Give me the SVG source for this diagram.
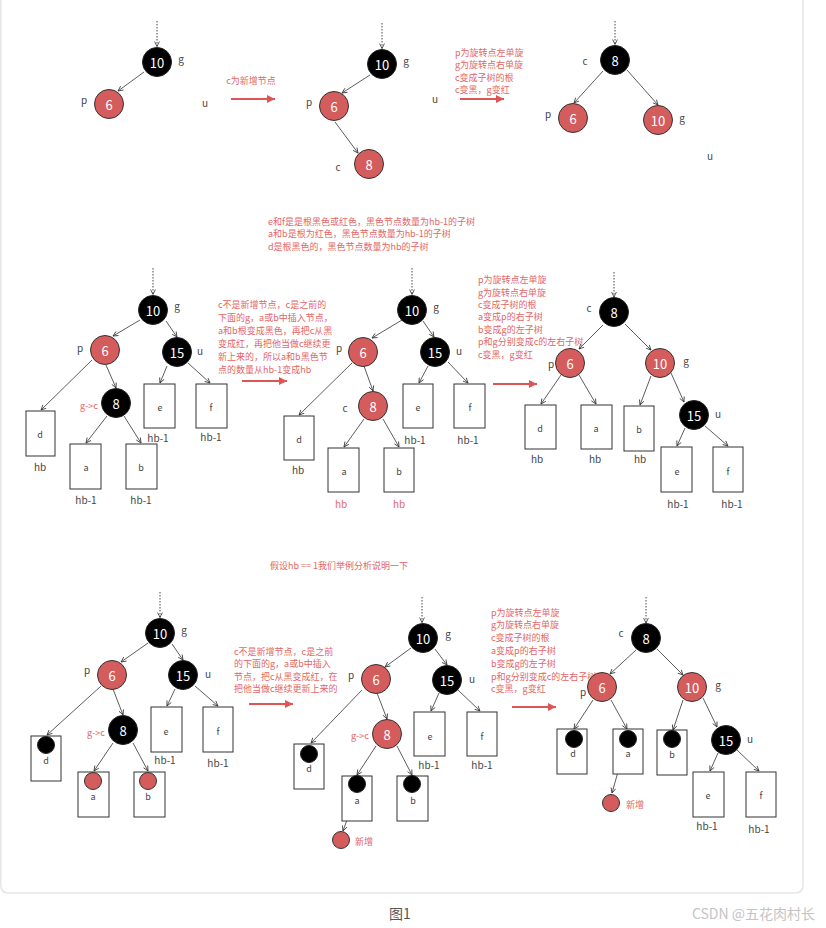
<svg xmlns="http://www.w3.org/2000/svg" width="826" height="928" viewBox="0 0 826 928">
<style>
text{font-family:"Noto Sans CJK SC","Noto Sans",sans-serif;dominant-baseline:central}
.b{fill:#000;stroke:#222;stroke-width:1}
.r{fill:#d45c5c;stroke:#333;stroke-width:1}
.n{fill:#fff;font-size:13px;text-anchor:middle}
.l{fill:#444;font-size:10px;text-anchor:middle}
.bl{fill:#444;font-size:9px;text-anchor:middle}
.h{fill:#444;font-size:10px;text-anchor:middle}
.hr{fill:#e36666;font-size:10px;text-anchor:middle}
.x{fill:#fff;stroke:#333;stroke-width:1}
.note{fill:#e36666;font-size:9px}
.gc{fill:#e36666;font-size:9px;text-anchor:middle}
.e{stroke:#333;stroke-width:0.8;fill:none;marker-end:url(#ah)}
.d{stroke:#333;stroke-width:0.9;fill:none;stroke-dasharray:1.5 1.5;marker-end:url(#ah)}
.ra{stroke:#dd5555;stroke-width:2;fill:none;marker-end:url(#rh)}
</style>
<defs>
<marker id="ah" viewBox="0 0 6 6" refX="5.5" refY="3" markerWidth="6" markerHeight="6" markerUnits="userSpaceOnUse" orient="auto"><path d="M0.5,0.6 L5.5,3 L0.5,5.4" fill="none" stroke="#333" stroke-width="0.8"/></marker>
<marker id="rh" viewBox="0 0 8 8" refX="8" refY="4" markerWidth="8" markerHeight="8" markerUnits="userSpaceOnUse" orient="auto"><path d="M0,0 L8,4 L0,8 Z" fill="#dd5555"/></marker>
</defs>
<rect width="826" height="928" fill="#fff"/>
<path d="M0.75,-10 V885 Q0.75,893 8.75,893 H795 Q803,893 803,885 V-10" fill="none" stroke="#e6e6e6" stroke-width="1.5"/>

<g id="connectors">
<!-- panel 1 -->
<line class="d" x1="157" y1="21" x2="157" y2="46.5"/>
<line class="e" x1="144" y1="72" x2="118" y2="91"/>
<line class="ra" x1="231" y1="99" x2="275" y2="99"/>
<!-- panel 2 -->
<line class="d" x1="382" y1="23" x2="382" y2="48.5"/>
<line class="e" x1="370" y1="75" x2="342" y2="93"/>
<line class="e" x1="335" y1="122" x2="358" y2="153"/>
<line class="ra" x1="460" y1="99" x2="504" y2="99"/>
<!-- panel 3 -->
<line class="d" x1="615" y1="21" x2="615" y2="44.5"/>
<line class="e" x1="603" y1="71" x2="574" y2="103"/>
<line class="e" x1="627" y1="70" x2="658" y2="105"/>
<!-- panel 4 -->
<line class="d" x1="153" y1="268" x2="153" y2="294.5"/>
<line class="e" x1="140" y1="320" x2="113" y2="336"/>
<line class="e" x1="166" y1="321" x2="177" y2="337"/>
<line class="e" x1="92" y1="360" x2="41" y2="410"/>
<line class="e" x1="106" y1="365" x2="116" y2="388"/>
<line class="e" x1="107" y1="416" x2="86" y2="443"/>
<line class="e" x1="124" y1="416" x2="141" y2="443"/>
<line class="e" x1="167" y1="366" x2="160" y2="383"/>
<line class="e" x1="188" y1="363" x2="210" y2="383"/>
<line class="ra" x1="242" y1="381" x2="287" y2="381"/>
<!-- panel 5 -->
<line class="d" x1="412" y1="268" x2="412" y2="294.5"/>
<line class="e" x1="402" y1="320" x2="372" y2="338"/>
<line class="e" x1="423" y1="321" x2="434" y2="337"/>
<line class="e" x1="352" y1="363" x2="299" y2="415"/>
<line class="e" x1="364" y1="366" x2="373" y2="391"/>
<line class="e" x1="364" y1="419" x2="344" y2="447"/>
<line class="e" x1="383" y1="419" x2="399" y2="447"/>
<line class="e" x1="428" y1="366" x2="419" y2="383"/>
<line class="e" x1="448" y1="362" x2="468" y2="383"/>
<line class="ra" x1="493" y1="384" x2="537" y2="384"/>
<!-- panel 6 -->
<line class="d" x1="614" y1="272" x2="614" y2="297"/>
<line class="e" x1="603" y1="325" x2="579" y2="349"/>
<line class="e" x1="625" y1="324" x2="651" y2="350"/>
<line class="e" x1="561" y1="375" x2="541" y2="404"/>
<line class="e" x1="579" y1="375" x2="596" y2="404"/>
<line class="e" x1="651" y1="376" x2="640" y2="405"/>
<line class="e" x1="671" y1="373" x2="684" y2="402"/>
<line class="e" x1="685" y1="428" x2="677" y2="446"/>
<line class="e" x1="705" y1="426" x2="728" y2="446"/>
<!-- panel 7 -->
<line class="d" x1="160" y1="592" x2="160" y2="617.5"/>
<line class="e" x1="148" y1="643" x2="121" y2="662"/>
<line class="e" x1="172" y1="644" x2="183" y2="660"/>
<line class="e" x1="101" y1="686" x2="47" y2="735"/>
<line class="e" x1="113" y1="689" x2="123" y2="715"/>
<line class="e" x1="113" y1="743" x2="94" y2="771"/>
<line class="e" x1="133" y1="743" x2="148" y2="771"/>
<line class="e" x1="175" y1="689" x2="167" y2="706"/>
<line class="e" x1="195" y1="686" x2="218" y2="706"/>
<line class="ra" x1="249" y1="704" x2="293" y2="704"/>
<!-- panel 8 -->
<line class="d" x1="422" y1="597" x2="422" y2="622.5"/>
<line class="e" x1="411" y1="648" x2="385" y2="667"/>
<line class="e" x1="435" y1="649" x2="447" y2="665"/>
<line class="e" x1="362" y1="690" x2="311" y2="743"/>
<line class="e" x1="377" y1="693" x2="387" y2="719"/>
<line class="e" x1="376" y1="746" x2="357" y2="775"/>
<line class="e" x1="397" y1="746" x2="412" y2="775"/>
<line class="e" x1="439" y1="693" x2="431" y2="711"/>
<line class="e" x1="458" y1="690" x2="480" y2="711"/>
<line class="e" x1="357" y1="792" x2="343" y2="831"/>
<line class="ra" x1="512" y1="707" x2="556" y2="707"/>
<!-- panel 9 -->
<line class="d" x1="646" y1="597" x2="646" y2="623"/>
<line class="e" x1="636" y1="650" x2="610" y2="674"/>
<line class="e" x1="657" y1="649" x2="683" y2="675"/>
<line class="e" x1="593" y1="700" x2="574" y2="729"/>
<line class="e" x1="611" y1="700" x2="627" y2="729"/>
<line class="e" x1="683" y1="700" x2="673" y2="730"/>
<line class="e" x1="703" y1="698" x2="717" y2="727"/>
<line class="e" x1="718" y1="753" x2="710" y2="771"/>
<line class="e" x1="737" y1="750" x2="759" y2="771"/>
<line class="e" x1="625" y1="747" x2="612" y2="793"/>
</g>

<!-- ===== Panel 1 ===== -->
<g id="t1-g"><circle class="b" cx="157" cy="62" r="14.5"/><text class="n" x="157" y="62">10</text><text class="l" x="181" y="58">g</text></g>
<g id="t1-p"><circle class="r" cx="109" cy="104" r="14.5"/><text class="n" x="109" y="104">6</text><text class="l" x="84" y="99">p</text></g>
<g id="t1-u"><text class="l" x="205" y="102">u</text></g>
<g id="a1"><text class="note" x="251" y="80" text-anchor="middle">c为新增节点</text></g>

<!-- ===== Panel 2 ===== -->
<g id="t2-g"><circle class="b" cx="382" cy="64" r="14.5"/><text class="n" x="382" y="64">10</text><text class="l" x="406" y="60">g</text></g>
<g id="t2-p"><circle class="r" cx="334" cy="106" r="14.5"/><text class="n" x="334" y="106">6</text><text class="l" x="309" y="101">p</text></g>
<g id="t2-c"><circle class="r" cx="369" cy="164" r="14.5"/><text class="n" x="369" y="164">8</text><text class="l" x="338" y="166">c</text></g>
<g id="t2-u"><text class="l" x="435" y="98">u</text></g>
<g id="a2"><text class="note" x="455" y="52">p为旋转点左单旋</text><text class="note" x="455" y="64">g为旋转点右单旋</text><text class="note" x="455" y="77">c变成子树的根</text><text class="note" x="455" y="89">c变黑，g变红</text></g>

<!-- ===== Panel 3 ===== -->
<g id="t3-c"><circle class="b" cx="615" cy="60" r="14.5"/><text class="n" x="615" y="60">8</text><text class="l" x="585" y="60">c</text></g>
<g id="t3-p"><circle class="r" cx="573" cy="118" r="14.5"/><text class="n" x="573" y="118">6</text><text class="l" x="548" y="113">p</text></g>
<g id="t3-g"><circle class="r" cx="658" cy="120" r="14.5"/><text class="n" x="658" y="120">10</text><text class="l" x="682" y="117">g</text></g>
<g id="t3-u"><text class="l" x="710" y="155">u</text></g>

<g id="note-mid"><text class="note" x="268" y="221">e和f是是根黑色或红色，黑色节点数量为hb-1的子树</text><text class="note" x="268" y="233">a和b是根为红色，黑色节点数量为hb-1的子树</text><text class="note" x="268" y="246">d是根黑色的，黑色节点数量为hb的子树</text></g>

<!-- ===== Panel 4 ===== -->
<g id="m1-g"><circle class="b" cx="153" cy="310" r="14.5"/><text class="n" x="153" y="310">10</text><text class="l" x="177" y="305">g</text></g>
<g id="m1-p"><circle class="r" cx="105" cy="350" r="14.5"/><text class="n" x="105" y="350">6</text><text class="l" x="80" y="347">p</text></g>
<g id="m1-u"><circle class="b" cx="177" cy="352" r="14.5"/><text class="n" x="177" y="352">15</text><text class="l" x="200" y="350">u</text></g>
<g id="m1-c"><circle class="b" cx="116" cy="403" r="14.5"/><text class="n" x="116" y="403">8</text><text class="gc" x="89" y="405">g-&gt;c</text></g>
<g id="m1-d"><rect class="x" x="26" y="411" width="29" height="45"/><text class="bl" x="40" y="434">d</text><text class="h" x="40" y="466">hb</text></g>
<g id="m1-a"><rect class="x" x="70" y="444" width="31" height="45"/><text class="bl" x="86" y="467">a</text><text class="h" x="86" y="499">hb-1</text></g>
<g id="m1-b"><rect class="x" x="126" y="444" width="31" height="45"/><text class="bl" x="141" y="467">b</text><text class="h" x="141" y="499">hb-1</text></g>
<g id="m1-e"><rect class="x" x="144" y="384" width="31" height="44"/><text class="bl" x="160" y="407">e</text><text class="h" x="158" y="437">hb-1</text></g>
<g id="m1-f"><rect class="x" x="196" y="384" width="31" height="44"/><text class="bl" x="211" y="407">f</text><text class="h" x="211" y="436">hb-1</text></g>
<g id="a4"><text class="note" x="218" y="304">c不是新增节点，c是之前的</text><text class="note" x="218" y="317">下面的g，a或b中插入节点，</text><text class="note" x="218" y="330">a和b根变成黑色，再把c从黑</text><text class="note" x="218" y="343">变成红，再把他当做c继续更</text><text class="note" x="218" y="356">新上来的，所以a和b黑色节</text><text class="note" x="218" y="369">点的数量从hb-1变成hb</text></g>

<!-- ===== Panel 5 ===== -->
<g id="m2-g"><circle class="b" cx="412" cy="310" r="14.5"/><text class="n" x="412" y="310">10</text><text class="l" x="436" y="306">g</text></g>
<g id="m2-p"><circle class="r" cx="363" cy="352" r="14.5"/><text class="n" x="363" y="352">6</text><text class="l" x="339" y="347">p</text></g>
<g id="m2-u"><circle class="b" cx="435" cy="352" r="14.5"/><text class="n" x="435" y="352">15</text><text class="l" x="459" y="350">u</text></g>
<g id="m2-c"><circle class="r" cx="373" cy="406" r="14.5"/><text class="n" x="373" y="406">8</text><text class="l" x="345" y="407">c</text></g>
<g id="m2-d"><rect class="x" x="284" y="416" width="30" height="44"/><text class="bl" x="299" y="439">d</text><text class="h" x="298" y="469">hb</text></g>
<g id="m2-a"><rect class="x" x="328" y="448" width="31" height="44"/><text class="bl" x="344" y="471">a</text><text class="hr" x="341" y="503">hb</text></g>
<g id="m2-b"><rect class="x" x="384" y="448" width="30" height="44"/><text class="bl" x="399" y="471">b</text><text class="hr" x="399" y="503">hb</text></g>
<g id="m2-e"><rect class="x" x="403" y="384" width="30" height="44"/><text class="bl" x="418" y="407">e</text><text class="h" x="415" y="439">hb-1</text></g>
<g id="m2-f"><rect class="x" x="454" y="384" width="31" height="44"/><text class="bl" x="470" y="407">f</text><text class="h" x="468" y="439">hb-1</text></g>
<g id="a5"><text class="note" x="478" y="279">p为旋转点左单旋</text><text class="note" x="478" y="292">g为旋转点右单旋</text><text class="note" x="478" y="304">c变成子树的根</text><text class="note" x="478" y="316">a变成p的右子树</text><text class="note" x="478" y="329">b变成g的左子树</text><text class="note" x="478" y="341">p和g分别变成c的左右子树</text><text class="note" x="478" y="354">c变黑，g变红</text></g>

<!-- ===== Panel 6 ===== -->
<g id="m3-c"><circle class="b" cx="614" cy="312" r="14.5"/><text class="n" x="614" y="312">8</text><text class="l" x="589" y="307">c</text></g>
<g id="m3-p"><circle class="r" cx="570" cy="363" r="14.5"/><text class="n" x="570" y="363">6</text><text class="l" x="551" y="363">p</text></g>
<g id="m3-g"><circle class="r" cx="660" cy="363" r="14.5"/><text class="n" x="660" y="363">10</text><text class="l" x="686" y="360">g</text></g>
<g id="m3-u"><circle class="b" cx="694" cy="415" r="14.5"/><text class="n" x="694" y="415">15</text><text class="l" x="718" y="413">u</text></g>
<g id="m3-d"><rect class="x" x="525" y="405" width="31" height="44"/><text class="bl" x="540" y="428">d</text><text class="h" x="537" y="458">hb</text></g>
<g id="m3-a"><rect class="x" x="581" y="405" width="31" height="44"/><text class="bl" x="596" y="428">a</text><text class="h" x="595" y="458">hb</text></g>
<g id="m3-b"><rect class="x" x="624" y="406" width="30" height="45"/><text class="bl" x="639" y="429">b</text><text class="h" x="640" y="458">hb</text></g>
<g id="m3-e"><rect class="x" x="661" y="447" width="31" height="45"/><text class="bl" x="677" y="471">e</text><text class="h" x="678" y="503">hb-1</text></g>
<g id="m3-f"><rect class="x" x="713" y="447" width="30" height="45"/><text class="bl" x="728" y="471">f</text><text class="h" x="732" y="503">hb-1</text></g>

<g id="note-example"><text class="note" x="270" y="565">假设hb == 1我们举例分析说明一下</text></g>

<!-- ===== Panel 7 ===== -->
<g id="b1-g"><circle class="b" cx="160" cy="633" r="14.5"/><text class="n" x="160" y="633">10</text><text class="l" x="184" y="629">g</text></g>
<g id="b1-p"><circle class="r" cx="112" cy="675" r="14.5"/><text class="n" x="112" y="675">6</text><text class="l" x="87" y="669">p</text></g>
<g id="b1-u"><circle class="b" cx="183" cy="675" r="14.5"/><text class="n" x="183" y="675">15</text><text class="l" x="208" y="673">u</text></g>
<g id="b1-c"><circle class="b" cx="123" cy="730" r="14.5"/><text class="n" x="123" y="730">8</text><text class="gc" x="96" y="732">g-&gt;c</text></g>
<g id="b1-d"><rect class="x" x="31" y="736" width="30" height="45"/><circle class="b" cx="46" cy="745" r="8.5"/><text class="bl" x="46" y="760">d</text></g>
<g id="b1-a"><rect class="x" x="78" y="772" width="31" height="45"/><circle class="r" cx="93" cy="781" r="8.5"/><text class="bl" x="93" y="796">a</text></g>
<g id="b1-b"><rect class="x" x="134" y="772" width="31" height="45"/><circle class="r" cx="148" cy="781" r="8.5"/><text class="bl" x="148" y="796">b</text></g>
<g id="b1-e"><rect class="x" x="151" y="707" width="31" height="45"/><text class="bl" x="166" y="731">e</text><text class="h" x="165" y="759">hb-1</text></g>
<g id="b1-f"><rect class="x" x="203" y="707" width="30" height="45"/><text class="bl" x="218" y="731">f</text><text class="h" x="218" y="762">hb-1</text></g>
<g id="a7"><text class="note" x="234" y="651">c不是新增节点，c是之前</text><text class="note" x="234" y="663">的下面的g，a或b中插入</text><text class="note" x="234" y="676">节点，把c从黑变成红，在</text><text class="note" x="234" y="688">把他当做c继续更新上来的</text></g>

<!-- ===== Panel 8 ===== -->
<g id="b2-g"><circle class="b" cx="423" cy="638" r="14.5"/><text class="n" x="423" y="638">10</text><text class="l" x="448" y="633">g</text></g>
<g id="b2-p"><circle class="r" cx="376" cy="679" r="14.5"/><text class="n" x="376" y="679">6</text><text class="l" x="351" y="674">p</text></g>
<g id="b2-u"><circle class="b" cx="447" cy="680" r="14.5"/><text class="n" x="447" y="680">15</text><text class="l" x="472" y="678">u</text></g>
<g id="b2-c"><circle class="r" cx="387" cy="734" r="14.5"/><text class="n" x="387" y="734">8</text><text class="gc" x="360" y="735">g-&gt;c</text></g>
<g id="b2-d"><rect class="x" x="294" y="744" width="30" height="45"/><circle class="b" cx="309" cy="754" r="8.5"/><text class="bl" x="309" y="768">d</text></g>
<g id="b2-a"><rect class="x" x="342" y="776" width="30" height="45"/><circle class="b" cx="357" cy="784" r="8.5"/><text class="bl" x="357" y="800">a</text></g>
<g id="b2-b"><rect class="x" x="397" y="776" width="31" height="45"/><circle class="b" cx="412" cy="784" r="8.5"/><text class="bl" x="413" y="800">b</text></g>
<g id="b2-new"><circle class="r" cx="341" cy="840" r="8.5"/><text class="note" x="355" y="841">新增</text></g>
<g id="b2-e"><rect class="x" x="414" y="712" width="31" height="44"/><text class="bl" x="430" y="736">e</text><text class="h" x="429" y="764">hb-1</text></g>
<g id="b2-f"><rect class="x" x="467" y="712" width="30" height="44"/><text class="bl" x="482" y="736">f</text><text class="h" x="482" y="764">hb-1</text></g>
<g id="a8"><text class="note" x="491" y="612">p为旋转点左单旋</text><text class="note" x="491" y="624">g为旋转点右单旋</text><text class="note" x="491" y="637">c变成子树的根</text><text class="note" x="491" y="650">a变成p的右子树</text><text class="note" x="491" y="663">b变成g的左子树</text><text class="note" x="491" y="676">p和g分别变成c的左右子树</text><text class="note" x="491" y="688">c变黑，g变红</text></g>

<!-- ===== Panel 9 ===== -->
<g id="b3-c"><circle class="b" cx="646" cy="638" r="14.5"/><text class="n" x="646" y="638">8</text><text class="l" x="621" y="632">c</text></g>
<g id="b3-p"><circle class="r" cx="602" cy="687" r="14.5"/><text class="n" x="602" y="687">6</text><text class="l" x="583" y="691">p</text></g>
<g id="b3-g"><circle class="r" cx="692" cy="687" r="14.5"/><text class="n" x="692" y="687">10</text><text class="l" x="718" y="684">g</text></g>
<g id="b3-u"><circle class="b" cx="726" cy="740" r="14.5"/><text class="n" x="726" y="740">15</text><text class="l" x="750" y="738">u</text></g>
<g id="b3-d"><rect class="x" x="557" y="729" width="30" height="45"/><circle class="b" cx="574" cy="739" r="8.5"/><text class="bl" x="573" y="753">d</text></g>
<g id="b3-a"><rect class="x" x="613" y="729" width="30" height="45"/><circle class="b" cx="628" cy="739" r="8.5"/><text class="bl" x="628" y="753">a</text></g>
<g id="b3-b"><rect class="x" x="657" y="730" width="30" height="45"/><circle class="b" cx="672" cy="739" r="8.5"/><text class="bl" x="672" y="754">b</text></g>
<g id="b3-new"><circle class="r" cx="611" cy="803" r="8.5"/><text class="note" x="626" y="804">新增</text></g>
<g id="b3-e"><rect class="x" x="693" y="772" width="31" height="45"/><text class="bl" x="708" y="795">e</text><text class="h" x="707" y="825">hb-1</text></g>
<g id="b3-f"><rect class="x" x="746" y="772" width="30" height="45"/><text class="bl" x="761" y="795">f</text><text class="h" x="759" y="828">hb-1</text></g>

<g id="footer"><text x="400" y="913" text-anchor="middle" font-size="14" fill="#555">图1</text><text x="815" y="913" text-anchor="end" font-size="14" fill="#c4c4c4">CSDN @五花肉村长</text></g>
</svg>
